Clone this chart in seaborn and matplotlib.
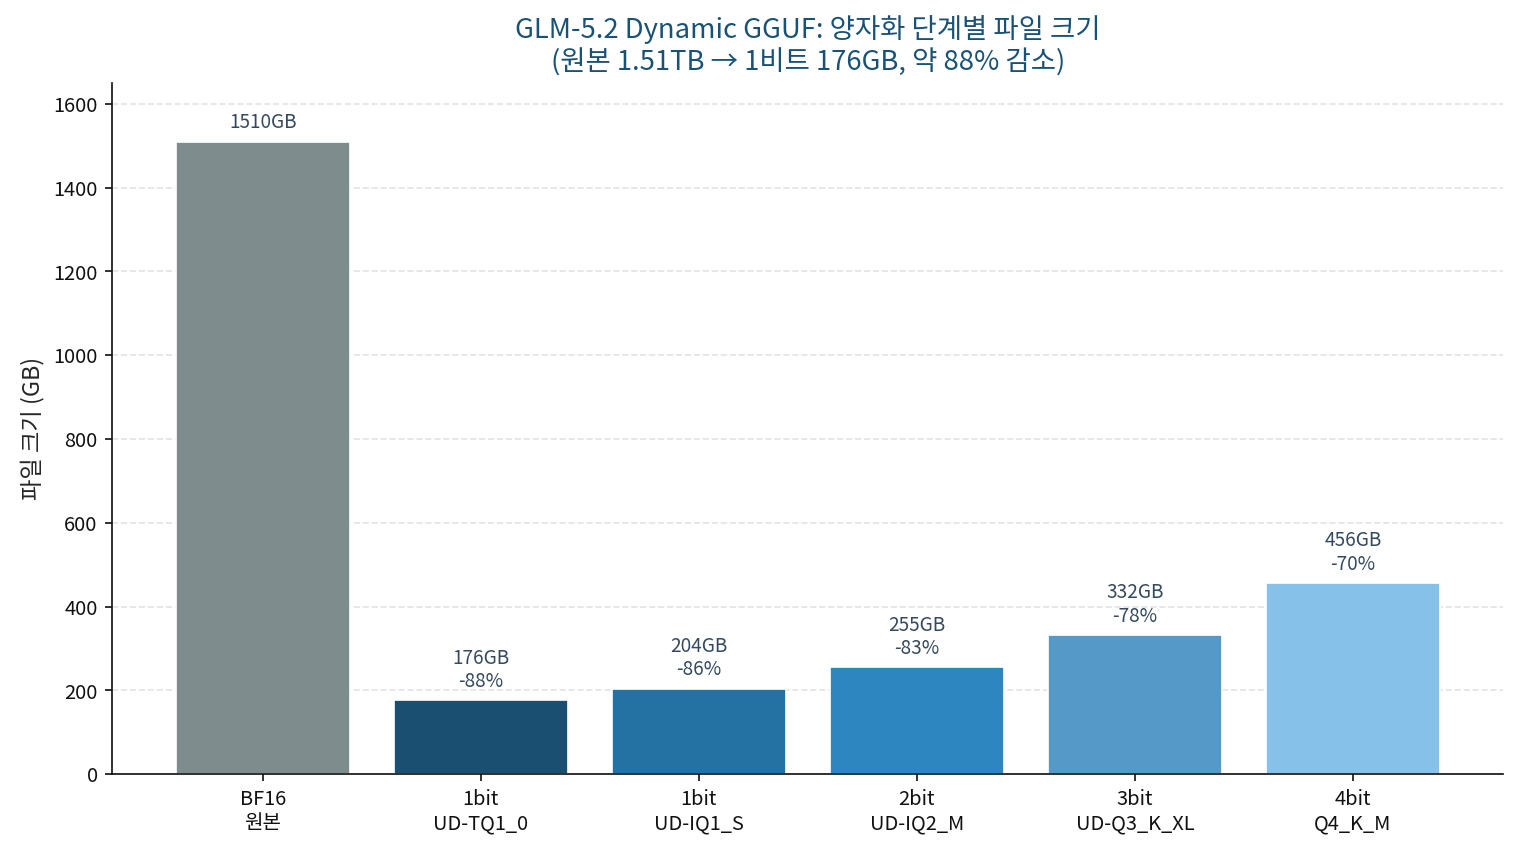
import matplotlib.pyplot as plt
import seaborn as sns
import pandas as pd

labels = ['BF16\n원본', '1bit\nUD-TQ1_0', '1bit\nUD-IQ1_S', '2bit\nUD-IQ2_M', '3bit\nUD-Q3_K_XL', '4bit\nQ4_K_M']
sizes = [1510, 176, 204, 255, 332, 456]
reductions = [None, -88, -86, -83, -78, -70]
colors = ['#7f8c8d', '#1b4f72', '#2471a3', '#2e86c1', '#5499c7', '#85c1e9']

sns.set_style('ticks')
plt.rcParams['font.family'] = ['Noto Sans CJK KR', 'DejaVu Sans']
plt.rcParams['axes.unicode_minus'] = False

df = pd.DataFrame({'label': labels, 'size': sizes})

fig, ax = plt.subplots(figsize=(10, 5.58), dpi=152)
sns.barplot(data=df, x='label', y='size', hue='label', palette=colors,
            legend=False, width=0.8, edgecolor='white', linewidth=0.8,
            saturation=1, ax=ax)

for i, (s, r) in enumerate(zip(sizes, reductions)):
    txt = f'{s}GB' if r is None else f'{s}GB\n{r}%'
    ax.annotate(txt, (i, s), xytext=(0, 4), textcoords='offset points',
                ha='center', va='bottom', fontsize=9, color='#34495e',
                linespacing=1.15)

ax.set_xlim(-0.69, len(labels) - 1 + 0.69)
ax.set_ylim(0, 1650)
ax.set_xlabel('')
ax.set_ylabel('파일 크기 (GB)', fontsize=11)
ax.set_title('GLM-5.2 Dynamic GGUF: 양자화 단계별 파일 크기\n(원본 1.51TB → 1비트 176GB, 약 88% 감소)',
             fontsize=13, color='#1a5276', linespacing=1.2)
ax.yaxis.grid(True, linestyle='--', color='#dddddd', alpha=0.8)
ax.set_axisbelow(True)
ax.tick_params(labelsize=9.5, colors='#111111')
for sp in ax.spines.values():
    sp.set_color('#111111')
sns.despine(ax=ax)

fig.subplots_adjust(left=0.074, right=0.989, top=0.902, bottom=0.087)
plt.savefig('out.png')
